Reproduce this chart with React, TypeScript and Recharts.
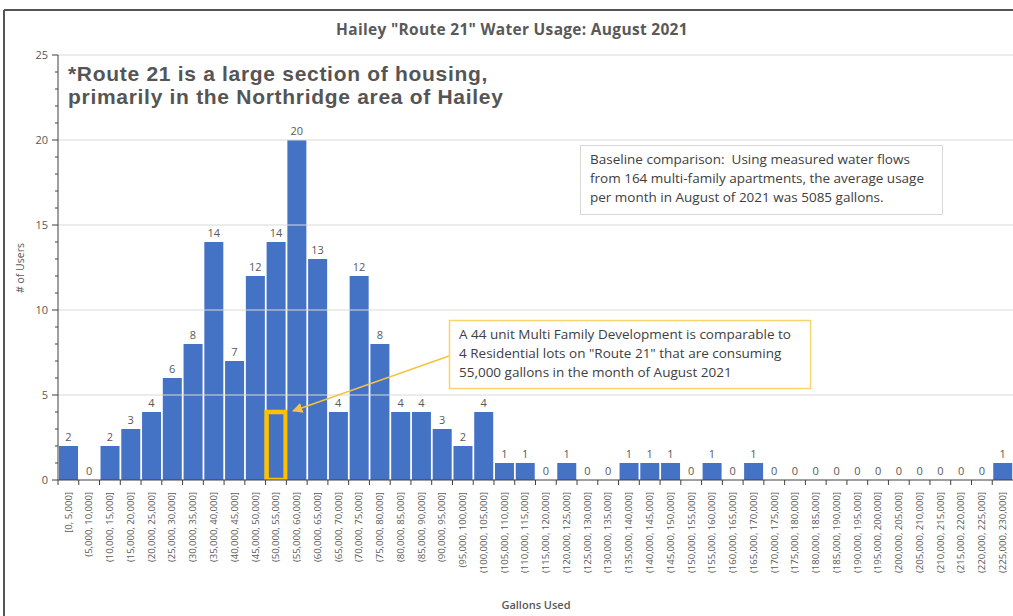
import React from 'react';
import { ComposedChart, Bar, Line, XAxis, YAxis, ReferenceLine, LabelList, Rectangle } from 'recharts';

const categories: string[] = [
  '[0, 5,000]', '(5,000, 10,000]', '(10,000, 15,000]', '(15,000, 20,000]', '(20,000, 25,000]',
  '(25,000, 30,000]', '(30,000, 35,000]', '(35,000, 40,000]', '(40,000, 45,000]', '(45,000, 50,000]',
  '(50,000, 55,000]', '(55,000, 60,000]', '(60,000, 65,000]', '(65,000, 70,000]', '(70,000, 75,000]',
  '(75,000, 80,000]', '(80,000, 85,000]', '(85,000, 90,000]', '(90,000, 95,000]', '(95,000, 100,000]',
  '(100,000, 105,000]', '(105,000, 110,000]', '(110,000, 115,000]', '(115,000, 120,000]', '(120,000, 125,000]',
  '(125,000, 130,000]', '(130,000, 135,000]', '(135,000, 140,000]', '(140,000, 145,000]', '(145,000, 150,000]',
  '(150,000, 155,000]', '(155,000, 160,000]', '(160,000, 165,000]', '(165,000, 170,000]', '(170,000, 175,000]',
  '(175,000, 180,000]', '(180,000, 185,000]', '(185,000, 190,000]', '(190,000, 195,000]', '(195,000, 200,000]',
  '(200,000, 205,000]', '(205,000, 210,000]', '(210,000, 215,000]', '(215,000, 220,000]', '(220,000, 225,000]',
  '(225,000, 230,000]',
];

const users: number[] = [
  2, 0, 2, 3, 4, 6, 8, 14, 7, 12,
  14, 20, 13, 4, 12, 8, 4, 4, 3, 2,
  4, 1, 1, 0, 1, 0, 0, 1, 1, 1,
  0, 1, 0, 1, 0, 0, 0, 0, 0, 0,
  0, 0, 0, 0, 0, 1,
];

const yTicks: number[] = [0, 1, 2, 3, 4, 5, 6, 7, 8, 9, 10, 11, 12, 13, 14, 15, 16, 17, 18, 19, 20, 21, 22, 23, 24, 25];
const gridValues: number[] = [5, 10, 15, 20, 25];
const highlightIndex = 10;
const highlightTop = 4;

const data = categories.map((c, i) => ({ range: c, users: users[i] }));

const W = 1013;
const H = 616;
const AXIS_X = 58;
const PLOT_TOP = 55;
const X_AXIS_H = 136;
const PLOT_BOTTOM = H - X_AXIS_H;
const BAND = (W - AXIS_X) / categories.length;
const BAR_GAP = 1;

const FONT = '"Open Sans", "Noto Sans", sans-serif';
const GRAY = '#595959';
const BLUE = '#4472C4';

const XTick = (props: any) => {
  const { x, payload } = props;
  const y = PLOT_BOTTOM + 12;
  const bx = x - BAND / 2;
  return (
    <g>
      <line x1={bx} x2={bx} y1={PLOT_BOTTOM} y2={PLOT_BOTTOM + 5} stroke="#404040" strokeWidth={1} />
      <text
        x={x}
        y={y}
        transform={`rotate(-90, ${x}, ${y})`}
        textAnchor="end"
        dy="0.35em"
        fill={GRAY}
        fontSize={9.5}
        fontFamily={FONT}
      >
        {payload.value}
      </text>
    </g>
  );
};

const YTick = (props: any) => {
  const { y, payload } = props;
  const major = payload.value % 5 === 0;
  return (
    <g>
      <line x1={major ? AXIS_X - 6 : AXIS_X - 3} x2={AXIS_X} y1={y} y2={y} stroke="#404040" strokeWidth={1} />
      {major && (
        <text x={AXIS_X - 10} y={y} dy="0.35em" textAnchor="end" fill={GRAY} fontSize={11} fontFamily={FONT}>
          {payload.value}
        </text>
      )}
    </g>
  );
};

const BarShape = (p: any) => {
  const { x, y, width, height, index, payload } = p;
  const v = payload ? payload.users : 0;
  const base = <Rectangle x={x} y={y} width={width} height={height} fill={BLUE} />;
  if (index !== highlightIndex || !v) return base;
  const hh = (height * highlightTop) / v;
  return (
    <g>
      {base}
      <rect
        x={x - BAR_GAP + 1}
        y={y + height - hh}
        width={width + 2 * BAR_GAP - 2}
        height={hh}
        fill="none"
        stroke="#FFC000"
        strokeWidth={4.5}
      />
    </g>
  );
};

export default function App() {
  return (
    <div style={{ position: 'relative', width: W, height: H, background: '#fff', overflow: 'hidden' }}>
      <style>{'html, body { margin: 0; padding: 0; overflow: hidden; background: #fff; }'}</style>
      <ComposedChart
        width={W}
        height={H}
        data={data}
        margin={{ top: PLOT_TOP, right: 0, left: 0, bottom: 0 }}
        barCategoryGap={BAR_GAP}
      >
        {gridValues.map((v) => (
          <ReferenceLine key={v} y={v} stroke="#D9D9D9" strokeWidth={1} />
        ))}
        <XAxis
          dataKey="range"
          type="category"
          interval={0}
          height={X_AXIS_H}
          tick={<XTick />}
          tickLine={false}
          axisLine={{ stroke: '#404040', strokeWidth: 1 }}
        />
        <YAxis
          width={AXIS_X}
          domain={[0, 25]}
          ticks={yTicks}
          interval={0}
          allowDataOverflow
          tick={<YTick />}
          tickLine={false}
          axisLine={{ stroke: '#404040', strokeWidth: 1 }}
        />
        <Bar dataKey="users" fill={BLUE} shape={BarShape} isAnimationActive={false} />
        <Line
          dataKey="users"
          stroke="none"
          fill="none"
          dot={false}
          activeDot={false}
          legendType="none"
          isAnimationActive={false}
        >
          <LabelList dataKey="users" position="top" offset={5} fill={GRAY} fontSize={11} fontFamily={FONT} />
        </Line>
      </ComposedChart>
      <svg
        width={W}
        height={H}
        style={{ position: 'absolute', left: 0, top: 0, pointerEvents: 'none' }}
      >
        <defs>
          <marker id="arr" viewBox="0 0 10 10" refX="9" refY="5" markerWidth="7" markerHeight="7" orient="auto-start-reverse">
            <path d="M0,0 L10,5 L0,10 z" fill="#F5C342" />
          </marker>
        </defs>
        <line x1={4} x2={W} y1={10} y2={10} stroke="#555" strokeWidth={2} />
        <line x1={4} x2={4} y1={10} y2={H} stroke="#555" strokeWidth={2} />
        <text x={512} y={35} textAnchor="middle" fill={GRAY} fontSize={15.5} fontWeight={700} fontFamily={FONT} letterSpacing={0.3}>
          Hailey "Route 21" Water Usage: August 2021
        </text>
        <text x={68} y={81} fill="#555555" fontSize={21} fontWeight={700} fontFamily='"Liberation Sans", Arial, sans-serif' letterSpacing={0.7}>
          *Route 21 is a large section of housing,
        </text>
        <text x={68} y={104} fill="#555555" fontSize={21} fontWeight={700} fontFamily='"Liberation Sans", Arial, sans-serif' letterSpacing={0.7}>
          primarily in the Northridge area of Hailey
        </text>
        <rect x={580.5} y={145.5} width={362} height={69} fill="#fff" stroke="#D9D9D9" strokeWidth={1} />
        <g fill="#404040" fontSize={13.5} fontFamily={FONT}>
          <text x={590} y={164}>{'Baseline comparison:\u00A0 Using measured water flows'}</text>
          <text x={590} y={183}>from 164 multi-family apartments, the average usage</text>
          <text x={590} y={202}>per month in August of 2021 was 5085 gallons.</text>
        </g>
        <line x1={449} y1={356} x2={293} y2={411} stroke="#F5C342" strokeWidth={1.5} markerEnd="url(#arr)" />
        <rect x={449.5} y={320.5} width={361} height={68} fill="#fff" stroke="#F9D46A" strokeWidth={1.5} />
        <g fill="#404040" fontSize={13.5} fontFamily={FONT}>
          <text x={459} y={339}>A 44 unit Multi Family Development is comparable to</text>
          <text x={459} y={358}>4 Residential lots on "Route 21" that are consuming</text>
          <text x={459} y={377}>55,000 gallons in the month of August 2021</text>
        </g>
        <text x={20} y={268} transform="rotate(-90, 20, 268)" textAnchor="middle" dy="0.35em" fill={GRAY} fontSize={10.5} fontFamily={FONT}>
          # of Users
        </text>
        <text x={536} y={609} textAnchor="middle" fill={GRAY} fontSize={11} fontWeight={600} fontFamily={FONT}>
          Gallons Used
        </text>
      </svg>
    </div>
  );
}
